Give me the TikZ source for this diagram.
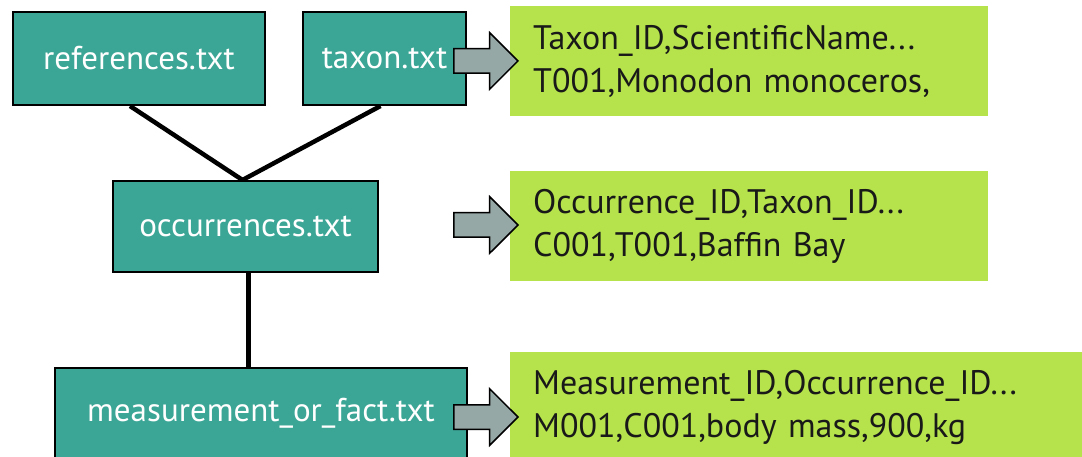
\documentclass[tikz,border=0pt]{standalone}
\usepackage{fontspec}
\setsansfont{PT Sans}
\usetikzlibrary{positioning, shapes.arrows}
\definecolor{tealbox}{RGB}{60,166,150}
\definecolor{limebox}{RGB}{182,227,75}
\definecolor{grayarrow}{RGB}{150,168,166}
\definecolor{textdark}{RGB}{25,25,25}
\tikzset{
  filebox/.style={
    draw=black, line width=2pt, fill=tealbox, text=white,
    font=\fontsize{33}{38}\selectfont\sffamily,
    minimum height=93pt, inner sep=0pt
  },
  databox/.style={
    fill=limebox, text=textdark, font=\fontsize{34}{43}\selectfont\sffamily,
    align=left, text width=432pt, inner xsep=23pt, inner ysep=0pt,
    minimum height=110pt, anchor=north west
  },
  fatarrow/.style={
    single arrow, draw=black, line width=1.5pt, fill=grayarrow,
    minimum height=64pt, single arrow head extend=16pt, inner sep=11.5pt,
    anchor=east
  },
  link/.style={line width=4.5pt, black}
}

\begin{document}
\begin{tikzpicture}[x=1pt, y=-1pt]
  \useasboundingbox (0,0) rectangle (1082,457);
  \node[filebox, minimum width=252pt] (refs) at (139,58.5) {references.txt};
  \node[filebox, minimum width=163pt] (taxon) at (384.5,58.5) {taxon.txt};
  \node[filebox, minimum width=265pt, minimum height=91pt] (occ) at (245.5,226.5) {occurrences.txt};
  \node[filebox, minimum width=412pt, minimum height=90pt] (meas) at (261,413) {measurement\_or\_fact.txt};

  \node[databox] (taxondata) at (510,6) {Taxon\_ID,ScientificName...\\T001,Monodon monoceros,};
  \node[databox] (occdata) at (510,171) {Occurrence\_ID,Taxon\_ID...\\C001,T001,Baffin Bay};
  \node[databox, text width=526pt] (measdata) at (510,352) {Measurement\_ID,Occurrence\_ID...\\M001,C001,body mass,900,kg};

  \node[fatarrow] (taxonarrow) at (519,61) {};
  \node[fatarrow] (occarrow) at (519,225) {};
  \node[fatarrow] (measarrow) at (519,417) {};

  \draw[link] ([xshift=-9pt]refs.south) -- ([xshift=-3pt]occ.north);
  \draw[link] ([xshift=-4pt]taxon.south) -- ([xshift=-3pt]occ.north);
  \draw[link] ([xshift=3pt]occ.south) -- ([xshift=3pt]occ.south |- meas.north);
\end{tikzpicture}
\end{document}
